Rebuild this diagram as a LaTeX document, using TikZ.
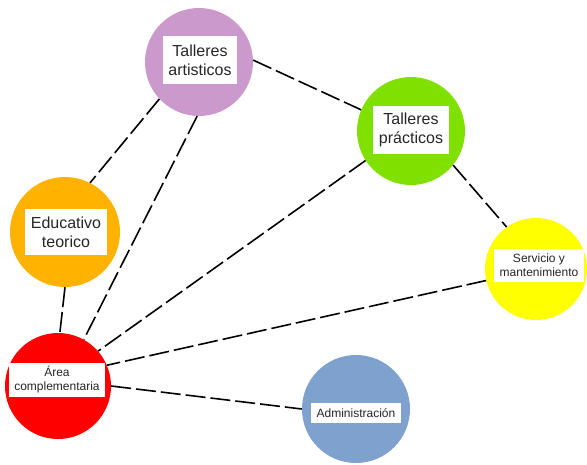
\documentclass[tikz,border=0pt]{standalone}
\usepackage{fontspec}
\setmainfont{Liberation Sans}
\usepackage{xcolor}
\usetikzlibrary{positioning}

\definecolor{lila}{RGB}{204,153,204}
\definecolor{lima}{RGB}{128,224,0}
\definecolor{naranja}{RGB}{255,179,0}
\definecolor{amarillo}{RGB}{255,255,0}
\definecolor{rojo}{RGB}{255,0,0}
\definecolor{azul}{RGB}{127,161,205}

\begin{document}
\begin{tikzpicture}[x=1pt,y=-1pt,
    bubble/.style={circle, inner sep=0pt, minimum size=108pt},
    tag/.style={fill=white, align=center, inner xsep=5.5pt, inner ysep=2pt, text=black!85},
    big/.style={font=\fontsize{16}{19}\selectfont, minimum height=48pt},
    small/.style={font=\fontsize{12}{14}\selectfont},
    link/.style={line width=1.6pt, dash pattern=on 20pt off 5pt}]
    \useasboundingbox (0,0) rectangle (587,464);

    % circles
    \node[bubble, fill=lila] (art) at (199,62) {};
    \node[bubble, fill=lima] (prac) at (411,131) {};
    \node[bubble, fill=naranja, minimum size=110pt] (edu) at (65,232) {};
    \node[bubble, fill=amarillo, minimum size=102pt] (serv) at (536,269) {};
    \node[bubble, fill=rojo, minimum size=106pt] (comp) at (58,386) {};
    \node[bubble, fill=azul] (adm) at (356,409) {};

    % labels
    \node[tag, big] (artL) at (200,60) {Talleres\\artisticos};
    \node[tag, big] (pracL) at (411,130) {Talleres\\prácticos};
    \node[tag, big, minimum height=46pt] (eduL) at (66,232) {Educativo\\teorico};
    \node[tag, small, minimum height=33pt] (servL) at (539,265) {Servicio y\\mantenimiento};
    \node[tag, small, minimum height=34pt] (compL) at (57,380) {Área\\complementaria};
    \node[tag, small, minimum height=20pt] (admL) at (356,413) {Administración};

    % dashed links
    \draw[link] (art.2) -- (prac.157);
    \draw[link] (art.223) -- (edu.63);
    \draw[link] (art.268) -- (comp.61);
    \draw[link] (prac.213) -- (comp.41);
    \draw[link] (prac.321) -- (serv.125);
    \draw[link] (edu.270) -- (comp.88);
    \draw[link] (serv.193) -- (comp.23);
    \draw[link] (comp.0) -- (adm.180);
\end{tikzpicture}
\end{document}
